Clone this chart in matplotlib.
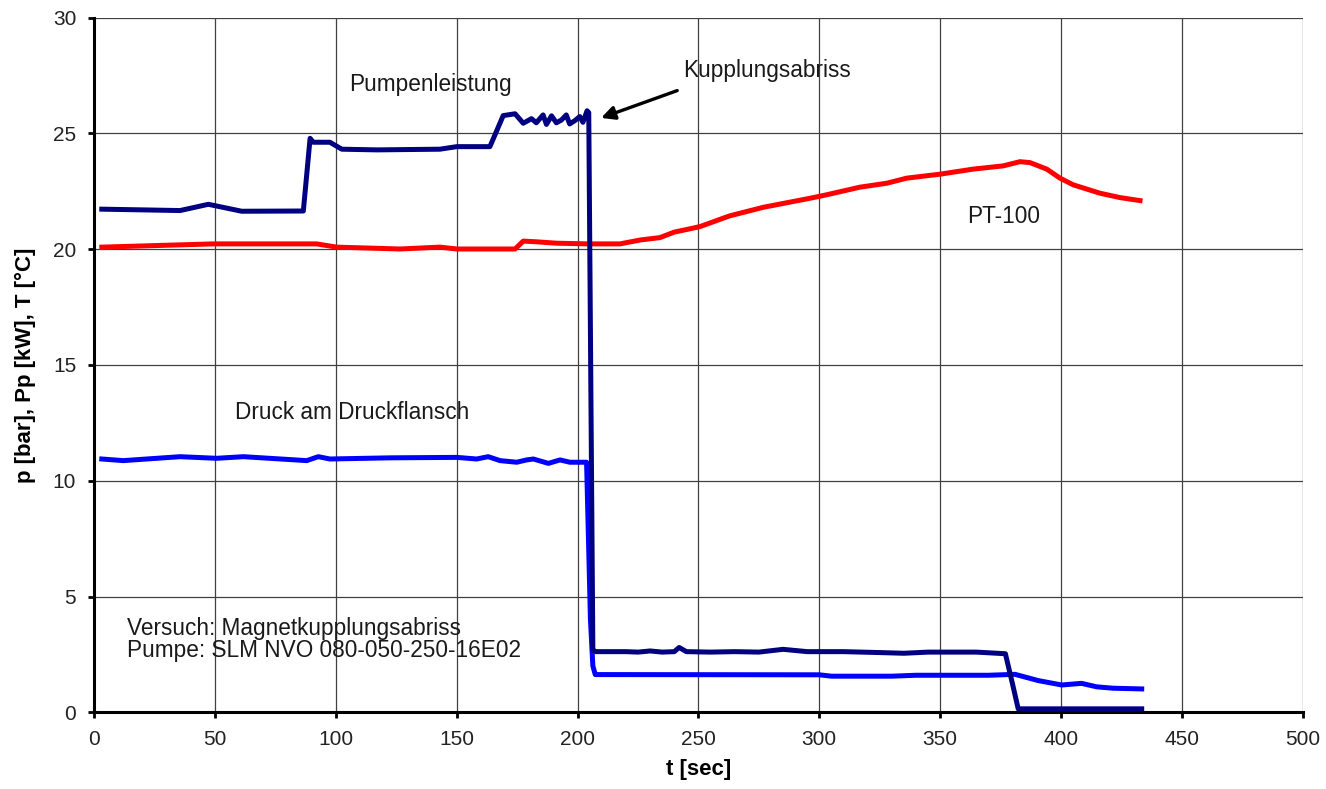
import matplotlib
matplotlib.use("Agg")
import matplotlib.pyplot as plt

plt.rcParams['font.family'] = ['Liberation Sans', 'DejaVu Sans']

# Pumpenleistung (dark navy)
pump_t = [3.1, 35.5, 47.2, 61.0, 86.5, 89.3, 90.6, 97.5, 102.4, 116.9, 143.0, 150.0, 163.7,
          169.2, 174.1, 177.5, 180.9, 182.9, 185.7, 187.1, 189.2, 191.2, 193.3, 195.3, 196.7,
          198.8, 200.9, 202.2, 203.9, 204.6, 206.3, 207.5, 220, 225, 230, 235, 240, 242, 245,
          255, 265, 275, 285, 295, 310, 325, 335, 345, 365, 377, 380, 382.3, 433.4]
pump_v = [21.73, 21.67, 21.94, 21.64, 21.65, 24.79, 24.62, 24.62, 24.32, 24.29, 24.32, 24.43, 24.43,
          25.77, 25.85, 25.44, 25.64, 25.46, 25.80, 25.39, 25.76, 25.46, 25.58, 25.80, 25.41,
          25.55, 25.73, 25.48, 25.98, 25.90, 2.70, 2.62, 2.62, 2.60, 2.65, 2.60, 2.62, 2.80, 2.62,
          2.60, 2.62, 2.60, 2.72, 2.62, 2.62, 2.58, 2.55, 2.60, 2.60, 2.53, 1.2, 0.15, 0.15]

# Druck am Druckflansch (blue)
druck_t = [3.1, 12.0, 35.5, 50.6, 61.7, 87.9, 92.7, 97.5, 122.3, 150.0, 158.2, 163.0, 167.9,
           174.8, 178.9, 181.7, 187.9, 192.7, 196.8, 203.7, 205.3, 206.3, 207.3, 300, 305,
           330, 340, 370, 381.0, 390.6, 400.3, 408.5, 414.8, 421.6, 433.4]
druck_v = [10.94, 10.87, 11.04, 10.97, 11.04, 10.87, 11.04, 10.94, 10.99, 11.01, 10.94, 11.04, 10.87,
           10.80, 10.90, 10.94, 10.75, 10.90, 10.80, 10.80, 4.0, 2.0, 1.63, 1.62, 1.56,
           1.56, 1.60, 1.60, 1.64, 1.37, 1.18, 1.25, 1.10, 1.04, 1.01]

# PT-100 (red)
temp_t = [3.1, 49.2, 92.0, 100.3, 126.5, 143.0, 150.0, 174.1, 177.5, 183.0, 191.3, 204.4,
          217.5, 226.0, 234.0, 240.0, 246.4, 250.7, 262.9, 276.8, 296.1, 303.0, 316.8, 327.9,
          336.2, 349.9, 363.7, 376.1, 383.0, 387.2, 394.1, 399.6, 405.1, 416.1, 424.4, 432.7]
temp_v = [20.09, 20.23, 20.23, 20.09, 20.01, 20.09, 20.01, 20.01, 20.35, 20.32, 20.26, 20.23,
          20.23, 20.40, 20.50, 20.74, 20.88, 20.98, 21.44, 21.81, 22.20, 22.35, 22.68, 22.85,
          23.07, 23.24, 23.46, 23.60, 23.78, 23.74, 23.46, 23.07, 22.78, 22.42, 22.23, 22.10]

x_ticks = [0, 50, 100, 150, 200, 250, 300, 350, 400, 450, 500]
y_ticks = [0, 5, 10, 15, 20, 25, 30]

fig = plt.figure(figsize=(13.26, 7.89), dpi=100)
ax = fig.add_axes([0.0711, 0.0972, 0.9824 - 0.0711, 0.9776 - 0.0972])

ax.plot(temp_t, temp_v, color='#FF0000', lw=3.6, solid_joinstyle='round', zorder=3)
ax.plot(druck_t, druck_v, color='#0000FF', lw=3.6, solid_joinstyle='round', zorder=4)
ax.plot(pump_t, pump_v, color='#000080', lw=3.6, solid_joinstyle='round', zorder=5)

ax.set_xlim(0, 500)
ax.set_ylim(0, 30)
ax.set_xticks(x_ticks)
ax.set_yticks(y_ticks)
ax.grid(True, color='#404040', lw=0.9)
ax.set_axisbelow(True)
for s in ['top', 'right']:
    ax.spines[s].set_visible(False)
for s in ['left', 'bottom']:
    ax.spines[s].set_linewidth(2.2)
    ax.spines[s].set_color('black')
ax.tick_params(axis='both', direction='out', length=4, width=2, labelsize=15, pad=9, colors='black')
ax.tick_params(axis='both', labelcolor='#222222')

ax.set_xlabel('t [sec]', fontsize=16, fontweight='bold', labelpad=7)
ax.set_ylabel('p [bar], Pp [kW], T [°C]', fontsize=16, fontweight='bold', labelpad=12)

fs = 16.3
ax.text(105.4, 27.1, 'Pumpenleistung', fontsize=fs, va='center', ha='left', color='#1a1a1a')
ax.text(243.6, 27.74, 'Kupplungsabriss', fontsize=fs, va='center', ha='left', color='#1a1a1a')
ax.annotate('', xy=(209.7, 25.67), xytext=(241.2, 26.85),
            arrowprops=dict(arrowstyle='-|>', color='black', lw=2.4, mutation_scale=20,
                            shrinkA=0, shrinkB=0), zorder=7)
ax.text(361, 21.4, 'PT-100', fontsize=fs, va='center', ha='left', color='#1a1a1a')
ax.text(58.2, 12.94, 'Druck am Druckflansch', fontsize=fs, va='center', ha='left', color='#1a1a1a')
ax.text(13.6, 3.64, 'Versuch: Magnetkupplungsabriss', fontsize=fs, va='center', ha='left', color='#1a1a1a')
ax.text(13.6, 2.65, 'Pumpe: SLM NVO 080-050-250-16E02', fontsize=fs, va='center', ha='left', color='#1a1a1a')

fig.savefig('out.png', dpi=100)
